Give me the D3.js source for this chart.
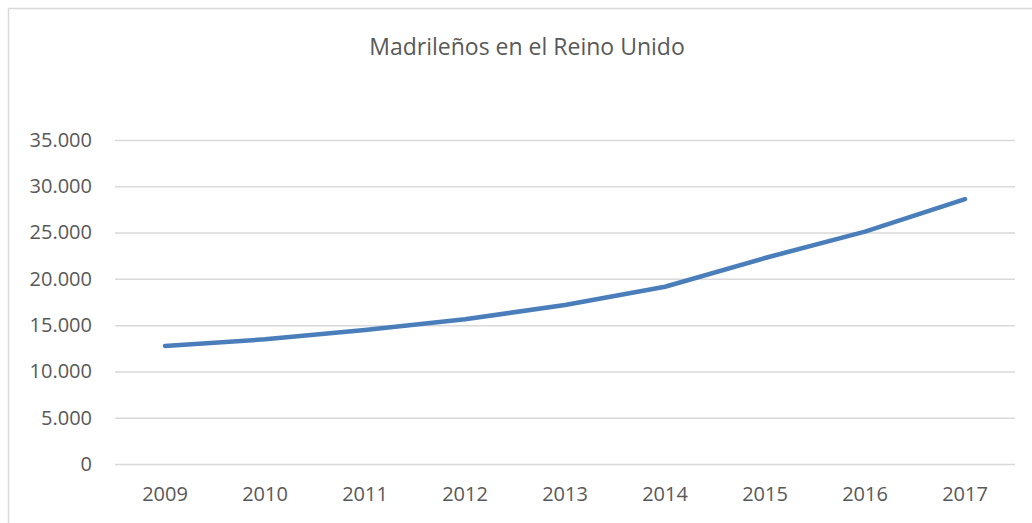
<!DOCTYPE html>
<html>
<head>
<meta charset="utf-8">
<script src="https://cdn.jsdelivr.net/npm/d3@7"></script>
<style>
  body { margin: 0; background: #fff; }
  svg { display: block; }
</style>
</head>
<body>
<div id="chart"></div>
<script>
var years = ["2009", "2010", "2011", "2012", "2013", "2014", "2015", "2016", "2017"];
var madrilenos = [12750, 13470, 14480, 15630, 17180, 19150, 22250, 25100, 28620];
var yTicks = [0, 5000, 10000, 15000, 20000, 25000, 30000, 35000];

var W = 1032, H = 523;
var margin = { top: 140, right: 17, bottom: 59, left: 115 },
    width = W - margin.left - margin.right,
    height = H - margin.top - margin.bottom;

var font = "'Open Sans', 'Liberation Sans', sans-serif";

var root = d3.select("#chart")
    .append("svg")
    .attr("width", W)
    .attr("height", H);

// chart frame (cropped at right and bottom)
root.append("path")
    .attr("d", "M8.5," + H + "V8.5H" + W)
    .attr("fill", "none")
    .attr("stroke", "#d9d9d9")
    .attr("stroke-width", 1.5);

root.append("text")
    .attr("x", 527)
    .attr("y", 55)
    .attr("text-anchor", "middle")
    .style("font-family", font)
    .style("font-size", "23px")
    .attr("fill", "#595959")
    .text("Madrileños en el Reino Unido");

var svg = root.append("g")
    .attr("transform", "translate(" + margin.left + "," + margin.top + ")");

var x = d3.scaleBand()
    .domain(years)
    .range([0, width]);

var y = d3.scaleLinear()
    .domain([0, 35000])
    .range([height, 0]);

var fmt = function (d) { return d === 0 ? "0" : d3.format(",")(d).replace(/,/g, "."); };

// gridlines
var yAxis = svg.append("g")
    .call(d3.axisLeft(y).tickValues(yTicks).tickSize(-width).tickPadding(23).tickFormat(fmt));
yAxis.select(".domain").remove();
yAxis.selectAll(".tick line")
    .attr("stroke", "#d9d9d9")
    .attr("stroke-width", 1.5);
yAxis.selectAll(".tick text")
    .style("font-family", font)
    .style("font-size", "20px")
    .attr("fill", "#595959");

var xAxis = svg.append("g")
    .attr("transform", "translate(0," + height + ")")
    .call(d3.axisBottom(x).tickSize(0).tickPadding(23));
xAxis.select(".domain").remove();
xAxis.selectAll(".tick text")
    .style("font-family", font)
    .style("font-size", "20px")
    .attr("fill", "#595959");

svg.append("path")
    .datum(madrilenos)
    .attr("fill", "none")
    .attr("stroke", "#4a7ebb")
    .attr("stroke-width", 4.5)
    .attr("stroke-linecap", "round")
    .attr("stroke-linejoin", "round")
    .attr("d", d3.line()
        .x(function (d, i) { return x(years[i]) + x.bandwidth() / 2; })
        .y(function (d) { return y(d); })
    );
</script>
</body>
</html>
